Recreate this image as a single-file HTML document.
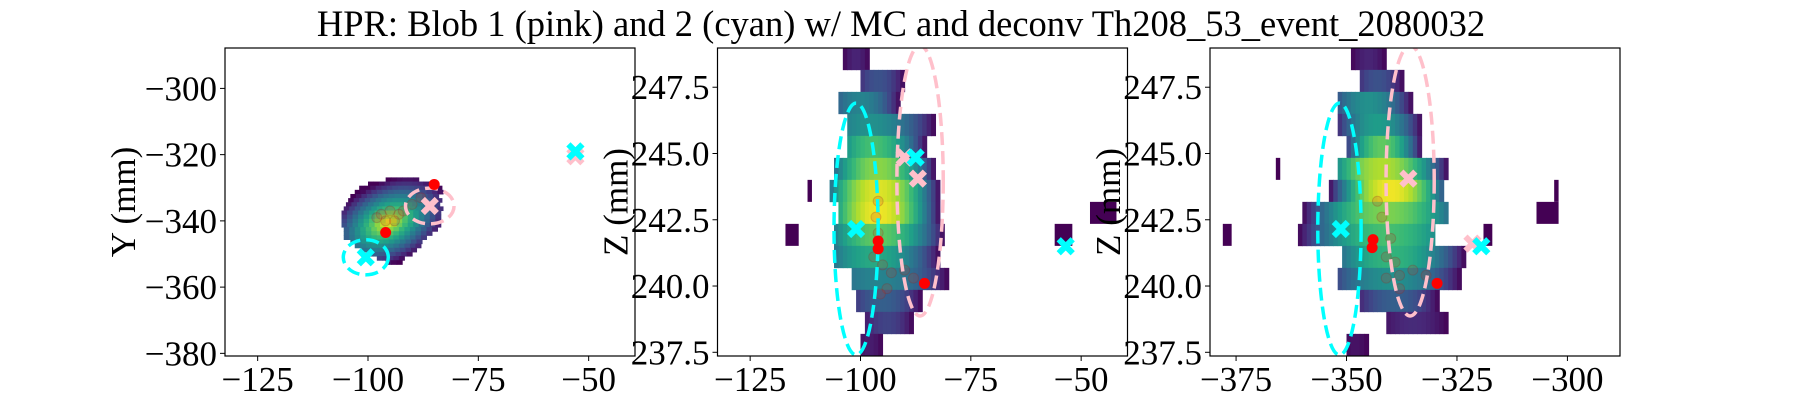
<!DOCTYPE html>
<html><head><meta charset="utf-8">
<style>
html,body{margin:0;padding:0;background:#fff;}
svg{display:block;}
text{font-family:"Liberation Serif",serif;fill:#000;}
</style></head>
<body>
<svg id="fig" width="1800" height="400" viewBox="0 0 1800 400" xmlns="http://www.w3.org/2000/svg">
<text x="901" y="36" font-size="36.5" text-anchor="middle">HPR: Blob 1 (pink) and 2 (cyan) w/ MC and deconv Th208_53_event_2080032</text>
</svg>
<script>
// ---- data ----
const xyRowY   = [-327.5,-328.75,-330,-331.25,-332.5,-333.75,-335,-336.25,-337.5,-338.75,-340,-341.25,-342.5,-343.75,-345,-346.25,-347.5,-348.75,-350,-351.25,-352.5];
const xyRowMin = [-96,-100,-102,-103,-104,-104.5,-105,-105.5,-106,-106,-106,-106,-105.5,-105.5,-105.5,-104,-103,-101.5,-100,-98,-96];
const xyRowMax = [-89,-85,-84,-84,-84,-84,-84,-84,-84,-84,-84,-84,-85,-86,-87,-88,-89,-90,-91,-92,-93];
const zRowZ    = [248.57,247.74,246.91,246.08,245.25,244.42,243.59,242.76,241.93,241.10,240.27,239.44,238.61,237.78];
const xzRowMin = [-104,-100,-105,-103,-103,-106,-107,-105,-106,-106,-102,-101,-99,-100];
const xzRowMax = [-98,-90,-91,-83,-85,-83,-82,-82,-81,-82,-80,-86,-88,-95];
const xzRowPeak= [0.1,0.25,0.45,0.5,0.7,0.82,0.95,0.98,0.75,0.6,0.45,0.3,0.2,0.08];
const xzRowCtr = [-101,-96,-100,-98,-97,-96,-96,-96,-96,-97,-96,-95,-94,-98];
const xzExtraZ = [243.59,242.76,241.93,241.93];
const xzExtraX0= [-112,-48,-117,-56];
const xzExtraX1= [-111,-42,-114,-52];
const yzRowMin = [-349,-347,-352,-352,-350,-352,-354,-360,-361,-351,-352,-347,-341,-350];
const yzRowMax = [-341,-337,-335,-333,-333,-327,-328,-327,-330,-323,-324,-329,-327,-345];
const yzRowPeak= [0.1,0.25,0.5,0.55,0.75,0.88,0.98,0.8,0.7,0.65,0.5,0.3,0.12,0.05];
const yzRowCtr = [-345,-343,-345,-343,-342,-342,-340,-341,-341,-340,-340,-339,-335,-348];
const yzExtraZ = [244.42,243.59,242.76,241.93,241.93];
const yzExtraX0= [-366,-303,-307,-378,-319];
const yzExtraX1= [-365,-302,-302,-376,-317];
const cyanX = [[[-100.5,-351],[-53,-319]], [[-101,242.15],[-87.5,244.85],[-53.5,241.5]], [[-351.3,242.15],[-319.5,241.5]]];
const pinkX = [[[-86,-335.5],[-53,-320.5]], [[-90,244.85],[-87,244.05]], [[-336,244.05],[-321.5,241.6]]];
const redDots = [[[-96,-343.5],[-85,-329]], [[-96,241.7],[-96,241.4],[-85.5,240.1]], [[-344,241.75],[-344.2,241.45],[-329.5,240.1]]];
const faint = [[[-97,-338],[-95,-337],[-93,-338],[-96,-340],[-94,-340],[-98,-339],[-92,-337],[-88,-333],[-90,-335]],
               [[-96,243.2],[-96.5,242.6],[-96,242.0],[-97,241.1],[-95,240.8],[-93,240.5],[-94,239.9],[-90,240.6],[-88,240.3],[-95.5,239.7]],
               [[-343,243.2],[-342,242.6],[-340,241.8],[-341,241.1],[-339,240.9],[-338,240.4],[-335,240.6],[-332,240.4],[-338,239.9],[-341,240.3]]];
const cyanEll = [[-100.5,-351,5.1,5.3],[-101,242.15,5,4.75],[-351.6,242.15,4.9,4.75]];
const pinkEll = [[-86,-335.5,5.5,5.4],[-86.5,243.97,5.25,5.1],[-335.6,243.97,5.45,5.1]];
const xDom = [[-132.4,-39.5],[-132.4,-39.5],[-380.9,-288.1]];
const yDom = [[-380.8,-287.8],[237.36,248.98],[237.36,248.98]];
const xTicks = [[-125,-100,-75,-50],[-125,-100,-75,-50],[-375,-350,-325,-300]];
const yTicks = [[-380,-360,-340,-320,-300],[237.5,240,242.5,245,247.5],[237.5,240,242.5,245,247.5]];
const yLabels = ["Y (mm)","Z (mm)","Z (mm)"];
const axLeft = [225,717.5,1210], axW=410, axTop=48, axH=308;

const NS="http://www.w3.org/2000/svg";
const svg=document.getElementById('fig');
function mk(t,a,p){const e=document.createElementNS(NS,t);for(const k in a)e.setAttribute(k,a[k]);(p||svg).appendChild(e);return e;}
const vstops=[[68,1,84],[72,40,120],[62,74,137],[49,104,142],[38,130,142],[31,158,137],[53,183,121],[110,206,88],[181,222,43],[253,231,37]];
function viridis(t){t=Math.max(0,Math.min(1,t));const f=t*(vstops.length-1);const i=Math.min(Math.floor(f),vstops.length-2);const u=f-i;const a=vstops[i],b=vstops[i+1];return `rgb(${Math.round(a[0]+(b[0]-a[0])*u)},${Math.round(a[1]+(b[1]-a[1])*u)},${Math.round(a[2]+(b[2]-a[2])*u)})`;}
function fmt(v,dec){const s=Math.abs(v).toFixed(dec);return (v<0?'\u2212':'')+s;}

for(let p=0;p<3;p++){
  const L=axLeft[p];
  const sx=v=>L+(v-xDom[p][0])/(xDom[p][1]-xDom[p][0])*axW;
  const sy=v=>axTop+axH-(v-yDom[p][0])/(yDom[p][1]-yDom[p][0])*axH;
  const g=mk('g',{});
  
  
  mk('defs',{},g).innerHTML=`<clipPath id="clip${p}"><rect x="${L}" y="${axTop}" width="${axW}" height="${axH}"/></clipPath>`;
  const hm=mk('g',{'clip-path':`url(#clip${p})`},g);
  
  
  if(p===0){
    const h=1.25;
    for(let r=0;r<xyRowY.length;r++){
      for(let x=xyRowMin[r];x<xyRowMax[r];x+=1.25){
        const dx=x+0.6-(-95.5), dy=xyRowY[r]-(-340.5);
        const u=(dx+dy)/1.41, v=(dx-dy)/1.41;
        const d=Math.sqrt((u/16)**2+(v/11)**2);
        const c=mk('rect',{x:sx(x),y:sy(xyRowY[r]+h/2),width:sx(x+1.25)-sx(x)+0.5,height:sy(xyRowY[r]-h/2)-sy(xyRowY[r]+h/2)+0.5,fill:viridis(1-d*1.0)},hm);
        
        
      }
    }
  } else {
    const mn=p===1?xzRowMin:yzRowMin, mx=p===1?xzRowMax:yzRowMax, pk=p===1?xzRowPeak:yzRowPeak, ct=p===1?xzRowCtr:yzRowCtr;
    const h=0.83;
    for(let r=0;r<zRowZ.length;r++){
      const half=Math.max(ct[r]-mn[r],mx[r]-ct[r]);
      for(let x=mn[r];x<mx[r];x+=1){
        const d=Math.abs(x+0.5-ct[r])/half;
        const c=mk('rect',{x:sx(x),y:sy(zRowZ[r]+h/2),width:sx(x+1)-sx(x)+0.5,height:sy(zRowZ[r]-h/2)-sy(zRowZ[r]+h/2)+0.3,fill:viridis(pk[r]*(1-d*d))},hm);
        
        
      }
    }
    const ez=p===1?xzExtraZ:yzExtraZ, e0=p===1?xzExtraX0:yzExtraX0, e1=p===1?xzExtraX1:yzExtraX1;
    for(let i=0;i<ez.length;i++){
      const c=mk('rect',{x:sx(e0[i]),y:sy(ez[i]+h/2),width:sx(e1[i])-sx(e0[i]),height:sy(ez[i]-h/2)-sy(ez[i]+h/2),fill:viridis(0)},hm);
      
      
    }
  }
  faint[p].forEach(q=>{
    const c=mk('circle',{cx:sx(q[0]),cy:sy(q[1]),r:5,fill:'rgba(200,60,40,0.2)',stroke:'rgba(150,40,30,0.25)'},hm);
    
    
  });
  [[cyanEll[p],'#00ffff','cyan-blob-ellipse'],[pinkEll[p],'#ffc0cb','pink-blob-ellipse']].forEach(([e,col,nm])=>{
    const el=mk('ellipse',{cx:sx(e[0]),cy:sy(e[1]),rx:sx(e[0]+e[2])-sx(e[0]),ry:sy(e[1])-sy(e[1]+e[3]),fill:'none',stroke:col,'stroke-width':3.5,'stroke-dasharray':'13,6'},hm);
    
    
  });
  redDots[p].forEach(q=>{
    const c=mk('circle',{cx:sx(q[0]),cy:sy(q[1]),r:5.5,fill:'#ff0000'},hm);
    
    
  });
  function xm(q,col,nm){
    const cx=sx(q[0]),cy=sy(q[1]),s=7;
    const e=mk('path',{d:`M${cx-s},${cy-s}L${cx+s},${cy+s}M${cx-s},${cy+s}L${cx+s},${cy-s}`,stroke:col,'stroke-width':6,'stroke-linecap':'butt'},hm);
    
    
  }
  pinkX[p].forEach(q=>xm(q,'#ffc0cb','pink-blob-marker'));
  cyanX[p].forEach(q=>xm(q,'#00ffff','cyan-blob-marker'));
  const fr=mk('rect',{x:L,y:axTop,width:axW,height:axH,fill:'none',stroke:'#000','stroke-width':1.2},g);
  
  
  xTicks[p].forEach(t=>{
    const x=sx(t);
    const tk=mk('line',{x1:x,x2:x,y1:axTop+axH,y2:axTop+axH+5,stroke:'#000','stroke-width':1},g);
    
    
    const tx=mk('text',{x:x,y:391,'font-size':35,'text-anchor':'middle'},g);
    tx.textContent=fmt(t,0);
    
    
  });
  yTicks[p].forEach(t=>{
    const y=sy(t);
    const tk=mk('line',{x1:L-5,x2:L,y1:y,y2:y,stroke:'#000','stroke-width':1},g);
    
    
    const tx=mk('text',{x:L-8,y:y+12,'font-size':35,'text-anchor':'end'},g);
    tx.textContent=fmt(t,p===0?0:1);
    
    
  });
  const yl=mk('text',{x:0,y:0,'font-size':35,'text-anchor':'middle',transform:`translate(${L-90},${axTop+axH/2}) rotate(-90)`},g);
  yl.textContent=yLabels[p];
  
  
}
</script>
</body></html>
